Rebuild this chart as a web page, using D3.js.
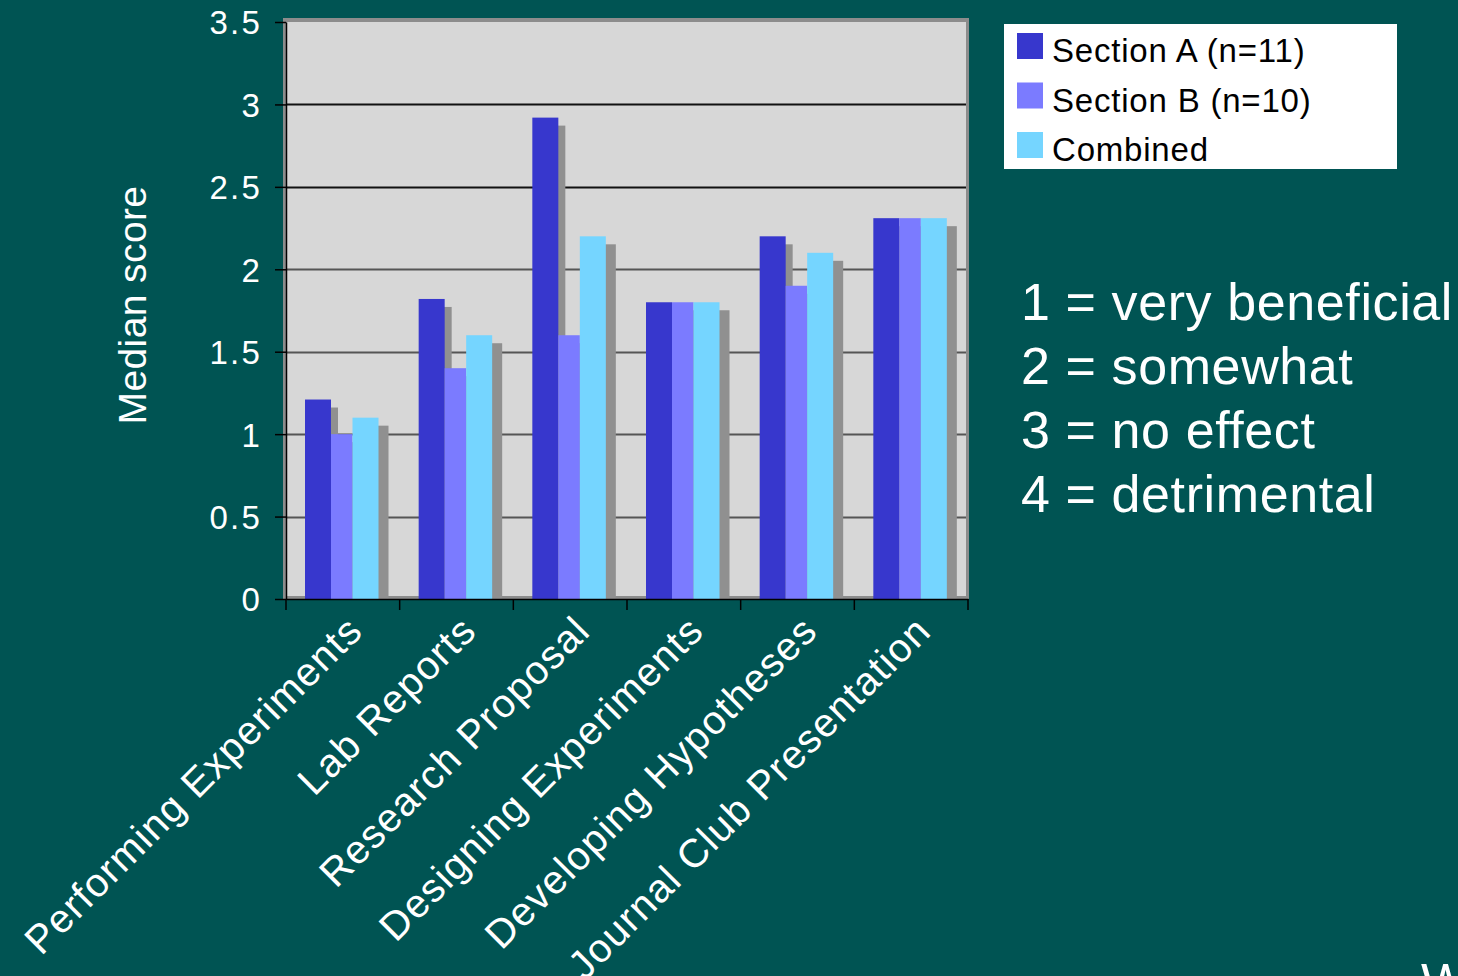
<!DOCTYPE html>
<html>
<head>
<meta charset="utf-8">
<script src="https://cdn.jsdelivr.net/npm/d3@7"></script>
<style>
  html, body { margin: 0; padding: 0; background: #005453; }
  svg { display: block; font-family: "Liberation Sans", Arial, sans-serif; }
</style>
</head>
<body>
<div class="chart"></div>
<script>
// Data
var categories = ["Performing Experiments", "Lab Reports", "Research Proposal",
  "Designing Experiments", "Developing Hypotheses", "Journal Club Presentation"];
var seriesNames = ["Section A (n=11)", "Section B (n=10)", "Combined"];
var sectionA = [1.21, 1.82, 2.92, 1.8, 2.2, 2.31];
var sectionB = [1.0, 1.4, 1.6, 1.8, 1.9, 2.31];
var combined = [1.1, 1.6, 2.2, 1.8, 2.1, 2.31];
var yTicks = [0, 0.5, 1, 1.5, 2, 2.5, 3, 3.5];
var scaleNotes = ["1 = very beneficial", "2 = somewhat", "3 = no effect", "4 = detrimental"];

// Canvas
var svgWidth = 1458;
var svgHeight = 976;

var plot = { left: 286, right: 968, top: 22, bottom: 599 };

var colors = ["#3737cd", "#7b7bff", "#75d5ff"];
var shadowColor = "#909090";
// bar layout inside a category (3D chart look)
var barOffset = [0, 26, 47.5];
var barWidth = [26, 21.5, 26];
var shadowDx = [7, 8, 10];
var shadowDy = 8;
var groupPad = 19;

var svg = d3.select(".chart")
  .append("svg")
  .attr("width", svgWidth)
  .attr("height", svgHeight);

// Scales
var xScale = d3.scaleBand()
  .domain(categories)
  .range([plot.left, plot.right])
  .padding(0);

var yScale = d3.scaleLinear()
  .domain([0, 3.5])
  .range([plot.bottom, plot.top]);

// back wall with its grey frame
svg.append("rect")
  .attr("x", plot.left - 3)
  .attr("y", plot.top - 4)
  .attr("width", plot.right + 1 - (plot.left - 3))
  .attr("height", plot.bottom - (plot.top - 4))
  .attr("fill", "#8c8c8c");

svg.append("rect")
  .attr("x", plot.left + 1)
  .attr("y", plot.top)
  .attr("width", plot.right - 2 - (plot.left + 1))
  .attr("height", plot.bottom - 3 - plot.top)
  .attr("fill", "#d7d7d7");

// gridlines
svg.append("g")
  .selectAll("line")
  .data(yTicks.filter(d => d > 0 && d < 3.5))
  .enter()
  .append("line")
  .attr("x1", plot.left)
  .attr("x2", plot.right - 2)
  .attr("y1", d => Math.round(yScale(d)) + 0.5)
  .attr("y2", d => Math.round(yScale(d)) + 0.5)
  .attr("stroke", d => d >= 2.5 ? "#111" : "#555")
  .attr("stroke-width", 2);

// bars, series by series (shadow first, then the face)
var seriesValues = [sectionA, sectionB, combined];

seriesValues.forEach(function(values, s) {
  var g = svg.append("g");

  g.selectAll("rect.shadow")
    .data(values)
    .enter()
    .append("rect")
    .attr("class", "shadow")
    .attr("x", (d, i) => xScale(categories[i]) + groupPad + barOffset[s] + shadowDx[s])
    .attr("y", d => yScale(d) + shadowDy)
    .attr("width", barWidth[s])
    .attr("height", d => plot.bottom - yScale(d) - shadowDy)
    .attr("fill", shadowColor);

  g.selectAll("rect.bar")
    .data(values)
    .enter()
    .append("rect")
    .attr("class", "bar")
    .attr("x", (d, i) => xScale(categories[i]) + groupPad + barOffset[s])
    .attr("y", d => yScale(d))
    .attr("width", barWidth[s])
    .attr("height", d => plot.bottom - yScale(d))
    .attr("fill", colors[s]);
});

// y axis
var leftAxis = d3.axisLeft(yScale)
  .tickValues(yTicks)
  .tickSize(11)
  .tickSizeOuter(0)
  .tickFormat(d => String(d));

var yAxisG = svg.append("g")
  .attr("transform", `translate(${plot.left}, 0)`)
  .call(leftAxis);

yAxisG.select(".domain").attr("stroke", "#000").attr("stroke-width", 1.5);
yAxisG.selectAll(".tick line").attr("stroke", "#000").attr("stroke-width", 1.5);
yAxisG.selectAll(".tick text")
  .attr("x", -24)
  .attr("dy", "0.36em")
  .attr("fill", "#fff")
  .attr("font-size", 33)
  .attr("letter-spacing", 2.2)
  .style("font-family", "Liberation Sans, Arial, sans-serif");

// x axis
var bottomAxis = d3.axisBottom(xScale)
  .tickSize(0)
  .tickFormat("");

var xAxisG = svg.append("g")
  .attr("transform", `translate(0, ${plot.bottom})`)
  .call(bottomAxis);

xAxisG.select(".domain").attr("stroke", "#000").attr("stroke-width", 1.5);

// category boundary ticks
svg.append("g")
  .selectAll("line")
  .data(categories.concat(["end"]))
  .enter()
  .append("line")
  .attr("x1", (d, i) => i < categories.length ? xScale(d) : plot.right)
  .attr("x2", (d, i) => i < categories.length ? xScale(d) : plot.right)
  .attr("y1", plot.bottom)
  .attr("y2", plot.bottom + 11)
  .attr("stroke", "#000")
  .attr("stroke-width", 1.5);

// rotated category labels
svg.append("g")
  .selectAll("text")
  .data(categories)
  .enter()
  .append("text")
  .attr("transform", d => `translate(${xScale(d) + xScale.bandwidth() / 2 + 22}, ${plot.bottom + 34}) rotate(-45)`)
  .attr("text-anchor", "end")
  .attr("fill", "#fff")
  .attr("font-size", 40)
  .attr("letter-spacing", 1.3)
  .text(d => d);

// y axis title
svg.append("text")
  .attr("transform", "rotate(-90)")
  .attr("x", -305)
  .attr("y", 146)
  .attr("text-anchor", "middle")
  .attr("fill", "#fff")
  .attr("font-size", 39)
  .attr("letter-spacing", 0.4)
  .text("Median score");

// legend
var legend = svg.append("g");

legend.append("rect")
  .attr("x", 1004)
  .attr("y", 24)
  .attr("width", 393)
  .attr("height", 145)
  .attr("fill", "#fff");

var legendItems = legend.selectAll("g.item")
  .data(seriesNames)
  .enter()
  .append("g")
  .attr("class", "item")
  .attr("transform", (d, i) => `translate(1017, ${33 + i * 49.5})`);

legendItems.append("rect")
  .attr("width", 26)
  .attr("height", 26)
  .attr("fill", (d, i) => colors[i]);

legendItems.append("text")
  .attr("x", 35)
  .attr("y", 29)
  .attr("fill", "#000")
  .attr("font-size", 33)
  .attr("letter-spacing", 0.8)
  .text(d => d);

// score key
svg.append("g")
  .selectAll("text")
  .data(scaleNotes)
  .enter()
  .append("text")
  .attr("x", 1021)
  .attr("y", (d, i) => 320 + i * 64)
  .attr("fill", "#fff")
  .attr("font-size", 52)
  .attr("letter-spacing", 0.6)
  .text(d => d);

// cut-off text at the bottom right corner of the slide
svg.append("text")
  .attr("x", 1421)
  .attr("y", 1000)
  .attr("fill", "#fff")
  .attr("font-size", 52)
  .text("W");
</script>
</body>
</html>
